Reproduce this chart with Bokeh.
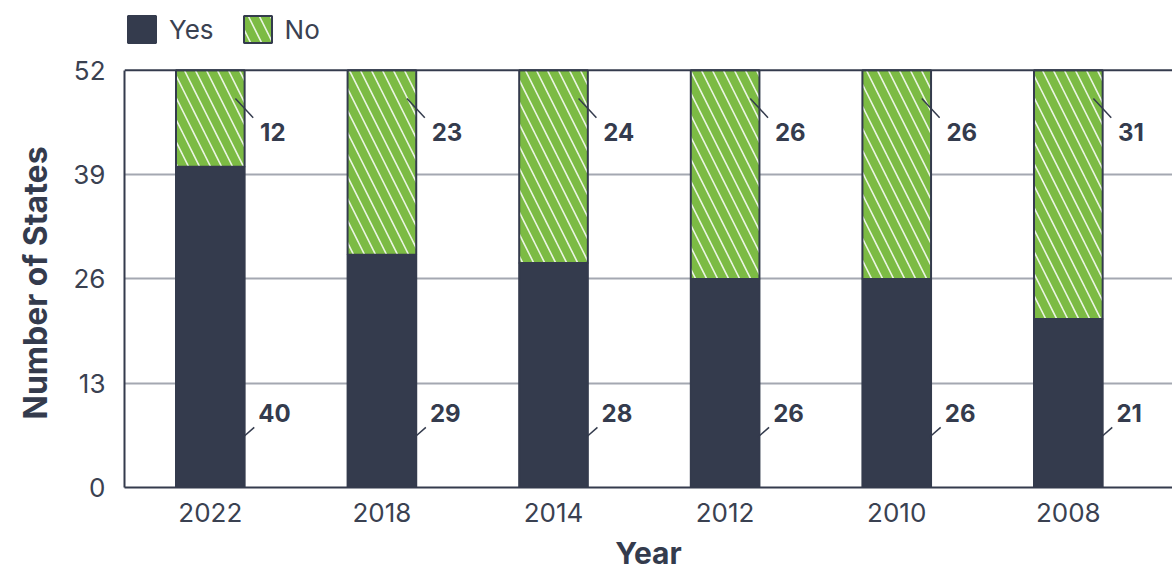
from bokeh.plotting import figure
from bokeh.models import Range1d, FixedTicker, Legend, LegendItem, Span, ColumnDataSource, Title
from bokeh.core.properties import value
from bokeh.embed import file_html
from bokeh.resources import INLINE

# ---- data ----
years = ["2022", "2018", "2014", "2012", "2010", "2008"]
yes_counts = [40, 29, 28, 26, 26, 21]
no_counts = [12, 23, 24, 26, 26, 31]
y_ticks = [0, 13, 26, 39, 52]

# ---- styles ----
DARK = "#343b4d"
GREEN = "#7cbb44"
GRID = "#a4a8b1"
TEXT = "#3a4151"
FONT = "Inter"
Y_MAX = 52
Y_TOP = 60.71  # room for the legend above the 52 line

idx = list(range(len(years)))
tops = [y + n for y, n in zip(yes_counts, no_counts)]

p = figure(width=1172, height=573, output_backend="svg", toolbar_location=None,
           x_range=Range1d(-0.5, 5.607), y_range=Range1d(0, Y_TOP),
           min_border_left=124, min_border_top=0, min_border_right=0, min_border_bottom=85)
p.outline_line_color = None
p.background_fill_color = "white"
p.border_fill_color = "white"

yes_r = p.vbar(x=idx, top=yes_counts, bottom=0, width=0.4, fill_color=DARK, line_color=DARK, line_width=2)
no_r = p.vbar(x=idx, top=tops, bottom=yes_counts, width=0.4, fill_color=GREEN, line_color=DARK, line_width=2,
              hatch_pattern="\\", hatch_color="white", hatch_alpha=0.85, hatch_scale=22, hatch_weight=1.6)

p.add_layout(Span(location=Y_MAX, dimension="width", line_color=DARK, line_width=2))

# value labels with leader lines
NO_LABEL_Y = 44.3
YES_LABEL_Y = 9.3
src_no = ColumnDataSource(dict(x=[i + 0.29 for i in idx], y=[NO_LABEL_Y] * len(idx), t=[str(v) for v in no_counts]))
src_yes = ColumnDataSource(dict(x=[i + 0.28 for i in idx], y=[YES_LABEL_Y] * len(idx), t=[str(v) for v in yes_counts]))
p.text(x="x", y="y", text="t", source=src_no, text_font=value(FONT), text_font_style="bold",
       text_font_size="24px", text_color=DARK, text_align="left", text_baseline="middle")
p.text(x="x", y="y", text="t", source=src_yes, text_font=value(FONT), text_font_style="bold",
       text_font_size="24px", text_color=DARK, text_align="left", text_baseline="middle")
p.segment(x0=[i + 0.146 for i in idx], y0=[48.5] * len(idx), x1=[i + 0.25 for i in idx], y1=[46.1] * len(idx),
          line_color=DARK, line_width=1.5)
p.segment(x0=[i + 0.192 for i in idx], y0=[6.3] * len(idx), x1=[i + 0.256 for i in idx], y1=[7.5] * len(idx),
          line_color=DARK, line_width=1.5)

# axes
p.yaxis.ticker = FixedTicker(ticks=y_ticks)
p.yaxis.bounds = (0, Y_MAX)
p.xaxis.ticker = FixedTicker(ticks=idx)
p.xaxis.major_label_overrides = {i: y for i, y in zip(idx, years)}
for ax in (p.xaxis[0], p.yaxis[0]):
    ax.axis_line_color = DARK
    ax.axis_line_width = 2
    ax.major_tick_line_color = None
    ax.minor_tick_line_color = None
    ax.major_label_text_font = FONT
    ax.major_label_text_font_size = "26px"
    ax.major_label_text_color = TEXT
    ax.axis_label_text_font = FONT
    ax.axis_label_text_font_size = "30px"
    ax.axis_label_text_font_style = "bold"
    ax.axis_label_text_color = DARK
p.xaxis.axis_label = "Year"
p.yaxis.major_label_standoff = 13
p.xaxis.major_label_standoff = 9
p.xaxis.axis_label_standoff = 10

# y axis title, centred on the 0..52 span
p.add_layout(Title(text="Number of States", align="left", vertical_align="top", offset=68, standoff=28,
                   text_font=FONT, text_font_size="32px", text_font_style="bold", text_color=DARK), "left")

p.xgrid.grid_line_color = None
p.ygrid.grid_line_color = GRID
p.ygrid.grid_line_width = 2
p.ygrid.ticker = FixedTicker(ticks=[13, 26, 39])

legend = Legend(items=[LegendItem(label="Yes", renderers=[yes_r]), LegendItem(label="No", renderers=[no_r])],
                orientation="horizontal", location=(0, 441), glyph_width=35, glyph_height=34,
                label_text_font=FONT, label_text_font_size="26px", label_text_color=TEXT,
                label_standoff=10, spacing=26, padding=0, margin=0,
                border_line_alpha=0, background_fill_alpha=0)
p.add_layout(legend, "center")

open("out.html", "w").write(file_html(p, INLINE))
